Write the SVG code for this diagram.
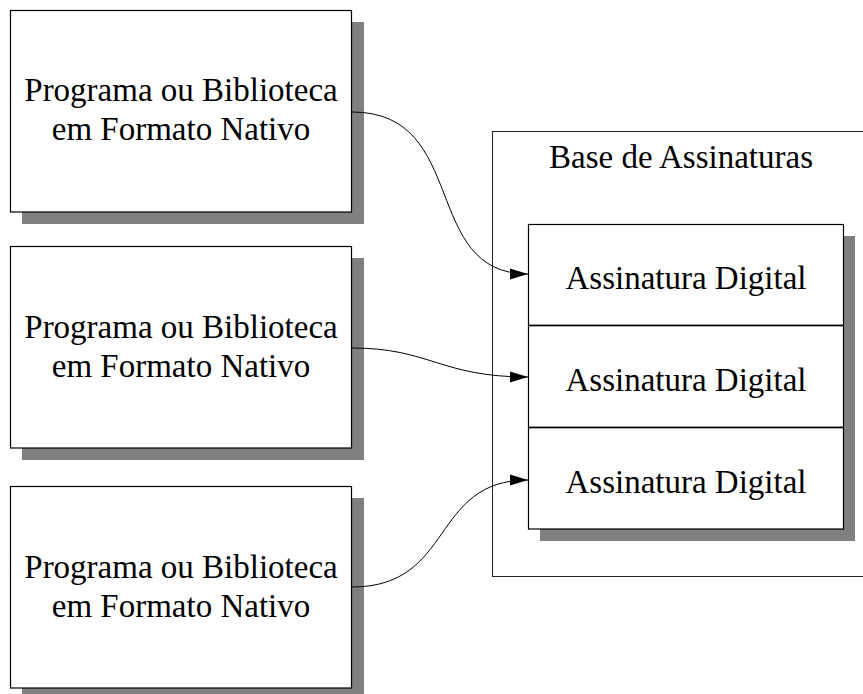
<svg xmlns="http://www.w3.org/2000/svg" width="863" height="694" viewBox="0 0 863 694">
<style>
  .shadow { fill: #808080; stroke: none; }
  .box { fill: #ffffff; stroke: #000000; stroke-width: 1.2; }
  .container { fill: #ffffff; stroke: #222222; stroke-width: 1; }
  .divider { stroke: #000000; stroke-width: 1.6; }
  .label { font-family: "Liberation Serif", "Times New Roman", serif; font-size: 33px; fill: #000000; text-anchor: middle; }
  .edge { fill: none; stroke: #000000; stroke-width: 1; }
</style>
<defs>
  <marker id="arrow" markerUnits="userSpaceOnUse" markerWidth="20" markerHeight="12" refX="18" refY="6" orient="auto">
    <path d="M0,0.5 L18,6 L0,11.5 z" fill="#000000"/>
  </marker>
</defs>
<rect width="863" height="694" fill="#ffffff"/>

<g id="base-assinaturas">
  <rect class="container" x="492.5" y="131.5" width="380" height="445"/>
  <text class="label" x="681" y="168">Base de Assinaturas</text>
</g>

<g id="assinatura-1">
  <rect class="shadow" x="540" y="236" width="315" height="101"/>
  <rect class="box" x="528.5" y="224.5" width="315" height="101"/>
  <text class="label" x="686" y="289">Assinatura Digital</text>
</g>
<g id="assinatura-2">
  <rect class="shadow" x="540" y="337" width="315" height="102"/>
  <rect class="box" x="528.5" y="325.5" width="315" height="102"/>
  <text class="label" x="686" y="391">Assinatura Digital</text>
</g>
<g id="assinatura-3">
  <rect class="shadow" x="540" y="439" width="315" height="102"/>
  <rect class="box" x="528.5" y="427.5" width="315" height="101.5"/>
  <text class="label" x="686" y="492.5">Assinatura Digital</text>
</g>
<line class="divider" x1="528.5" y1="325.5" x2="843.5" y2="325.5"/>
<line class="divider" x1="528.5" y1="427.5" x2="843.5" y2="427.5"/>

<g id="programa-1">
  <rect class="shadow" x="22" y="22" width="342" height="202"/>
  <rect class="box" x="10.5" y="10.5" width="341" height="201.5"/>
  <text class="label" x="181" y="100.5">Programa ou Biblioteca</text>
  <text class="label" x="181" y="140">em Formato Nativo</text>
</g>
<g id="programa-2">
  <rect class="shadow" x="22" y="258" width="342" height="202"/>
  <rect class="box" x="10.5" y="246.5" width="341" height="201.5"/>
  <text class="label" x="181" y="337.5">Programa ou Biblioteca</text>
  <text class="label" x="181" y="377">em Formato Nativo</text>
</g>
<g id="programa-3">
  <rect class="shadow" x="22" y="498" width="342" height="202"/>
  <rect class="box" x="10.5" y="486.5" width="341" height="201.5"/>
  <text class="label" x="181" y="577.5">Programa ou Biblioteca</text>
  <text class="label" x="181" y="617">em Formato Nativo</text>
</g>

<g id="connectors">
  <path class="edge" d="M352,112 C470,112 420,274 528,274" marker-end="url(#arrow)"/>
  <path class="edge" d="M352,348 C430,348 440,377 528,377" marker-end="url(#arrow)"/>
  <path class="edge" d="M352,587 C455,587 430,480 528,480" marker-end="url(#arrow)"/>
</g>
</svg>
